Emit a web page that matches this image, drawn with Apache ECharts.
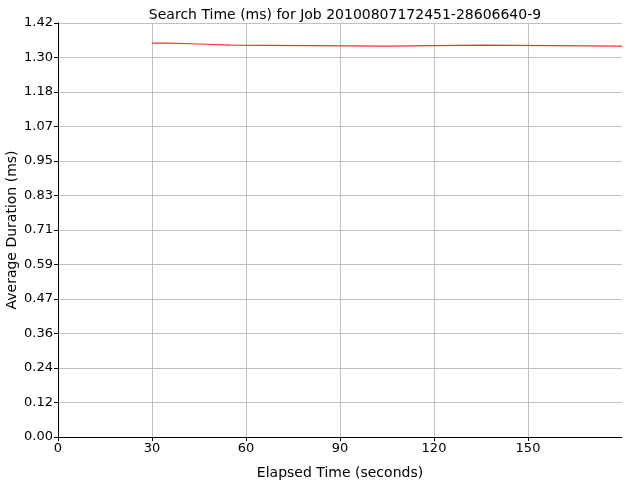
<!DOCTYPE html>
<html><head><meta charset="utf-8">
<script src="https://cdn.jsdelivr.net/npm/echarts@6/dist/echarts.min.js"></script>
<style>html,body{margin:0;padding:0;background:#fff}#c{width:640px;height:480px}</style>
</head><body><div id="c"></div>
<script>
const titleText = "Search Time (ms) for Job 20100807172451-28606640-9";
const xName = "Elapsed Time (seconds)";
const yName = "Average Duration (ms)";
const elapsed = [30, 35, 45, 55, 105, 135, 180];
const duration = [1.351, 1.348, 1.344, 1.341, 1.344, 1.341, 1.341];
const yTickLabels = ["0.00","0.12","0.24","0.36","0.47","0.59","0.71","0.83","0.95","1.07","1.18","1.30","1.42"];
const yMax = 1.42;
const yStep = yMax / 12;

const chart = echarts.init(document.getElementById('c'), null, {renderer: 'canvas'});
const font = "DejaVu Sans";
chart.setOption({
  animation: false,
  backgroundColor: '#fff',
  title: {
    text: titleText, left: 340, top: 3, textAlign: 'center',
    textStyle: {fontFamily: font, fontSize: 14, fontWeight: 'normal', color: '#000'}
  },
  grid: {left: 58, right: 18, top: 23, bottom: 43, containLabel: false, outerBoundsMode: 'none'},
  xAxis: {
    type: 'value', min: 0, max: 180, interval: 30,
    name: xName, nameLocation: 'middle', nameGap: 29, nameMoveOverlap: false,
    nameTextStyle: {fontFamily: font, fontSize: 14, color: '#000'},
    axisLine: {show: true, lineStyle: {color: '#000', width: 1}},
    axisTick: {show: true, length: 4, lineStyle: {color: '#000'}},
    axisLabel: {fontFamily: font, fontSize: 13, color: '#000', margin: 5, showMaxLabel: false},
    splitLine: {show: true, showMaxLine: false, lineStyle: {color: '#c0c0c0', width: 1}}
  },
  yAxis: {
    type: 'value', min: 0, max: yMax, interval: yStep,
    name: yName, nameLocation: 'middle', nameGap: 39, nameRotate: 90, nameMoveOverlap: false,
    nameTextStyle: {fontFamily: font, fontSize: 14, color: '#000'},
    axisLine: {show: true, lineStyle: {color: '#000', width: 1}},
    axisTick: {show: true, length: 4, lineStyle: {color: '#000'}},
    axisLabel: {fontFamily: font, fontSize: 13, color: '#000', margin: 5,
      formatter: v => yTickLabels[Math.round(v / yStep)]},
    splitLine: {show: true, lineStyle: {color: '#c0c0c0', width: 1}}
  },
  series: [{
    type: 'line', step: 'end', showSymbol: false,
    data: elapsed.map((x, i) => [x, duration[i]]),
    lineStyle: {color: '#ff3030', width: 1.2},
    itemStyle: {color: '#ff3030'}
  }]
});
</script></body></html>
